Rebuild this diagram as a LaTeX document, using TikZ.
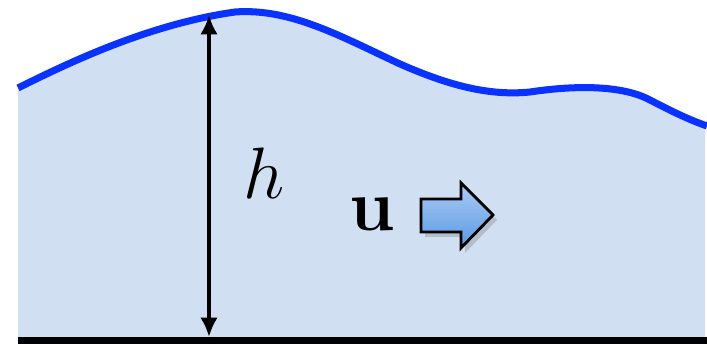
\documentclass[tikz,border=0pt]{standalone}
\usepackage{tikz}
\usepackage{xcolor}
\usetikzlibrary{arrows.meta,shadows}
\definecolor{water}{RGB}{208,224,242}
\definecolor{wave}{RGB}{10,50,255}
\definecolor{arrtop}{RGB}{172,204,244}
\definecolor{arrbot}{RGB}{88,152,228}
\newcommand{\FL}{\fontsize{20}{24}\selectfont}

\begin{document}
\begin{tikzpicture}
\tikzstyle{texto}=[draw=none,fill=none,black,font=\FL]
\tikzstyle{surf}=[wave,line width=2pt]
\tikzstyle{depth}=[black,line width=1.2pt,{Latex[length=5.5pt,width=5pt]}-{Latex[length=5.5pt,width=5pt]}]
\tikzstyle{flow}=[draw=black,line width=0.8pt,top color=arrtop,bottom color=arrbot,
  drop shadow={opacity=0.35,shadow xshift=0.04,shadow yshift=-0.05}]

\useasboundingbox (0,0) rectangle (7.07,3.44);

% water body
\fill[water] (0.18,0.04) -- (0.18,2.56)
  .. controls (0.70,2.82) and (1.50,3.20) .. (2.35,3.32)
  .. controls (2.90,3.36) and (3.40,3.08) .. (4.00,2.80)
  .. controls (4.50,2.58) and (4.90,2.48) .. (5.30,2.52)
  .. controls (5.70,2.58) and (6.20,2.60) .. (6.50,2.44)
  .. controls (6.75,2.31) and (6.90,2.24) .. (7.05,2.20)
  -- (7.05,0.04) -- cycle;

% surface
\draw[surf] (0.18,2.56)
  .. controls (0.70,2.82) and (1.50,3.20) .. (2.35,3.32)
  .. controls (2.90,3.36) and (3.40,3.08) .. (4.00,2.80)
  .. controls (4.50,2.58) and (4.90,2.48) .. (5.30,2.52)
  .. controls (5.70,2.58) and (6.20,2.60) .. (6.50,2.44)
  .. controls (6.75,2.31) and (6.90,2.24) .. (7.07,2.18);

% bed
\draw[black,line width=2pt] (0.18,0.035) -- (7.07,0.035);

% depth
\coordinate (top) at (2.09,3.29);
\coordinate (bot) at (2.09,0.07);
\draw[depth] (bot) -- (top);
\node[texto] (h) at (2.64,1.71) {$h$};

% velocity
\node[texto] (u) at (3.72,1.30) {$\mathbf{u}$};
\draw[flow] (4.21,1.45) -- (4.61,1.45) -- (4.61,1.61) -- (4.93,1.29)
  -- (4.61,0.96) -- (4.61,1.12) -- (4.21,1.12) -- cycle;
\end{tikzpicture}
\end{document}
